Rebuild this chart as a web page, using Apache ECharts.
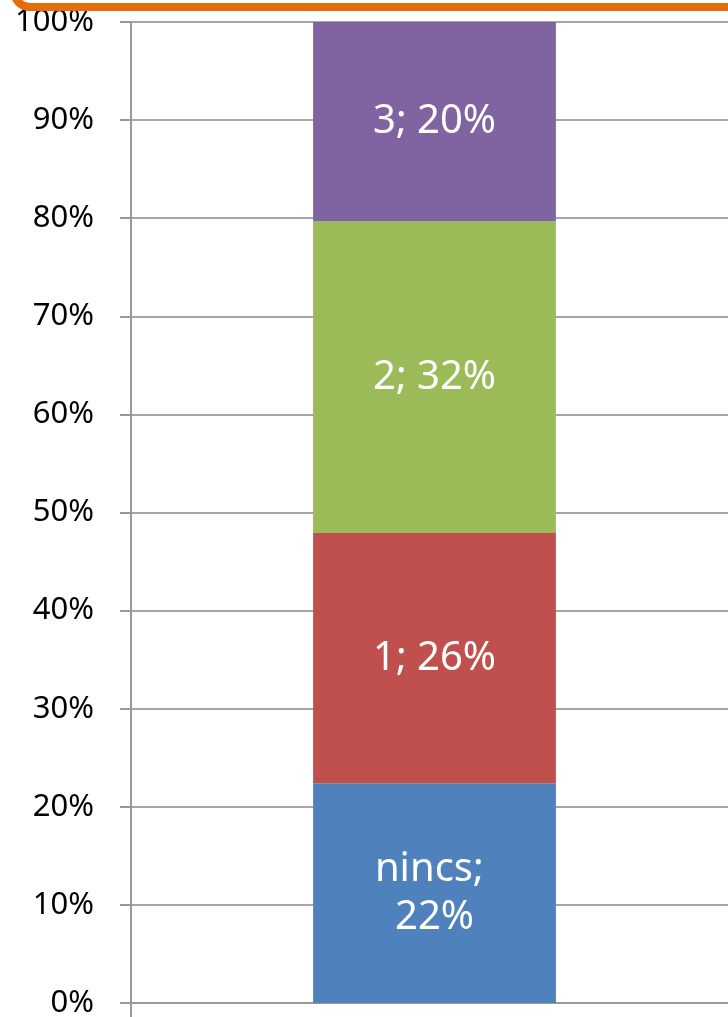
<!DOCTYPE html>
<html>
<head>
<meta charset="utf-8">
<script src="https://cdn.jsdelivr.net/npm/echarts@6/dist/echarts.min.js"></script>
<style>
    html, body { margin: 0; padding: 0; background: #fff; }
    #chart { width: 728px; height: 1017px; }
</style>
</head>
<body>
<div id="chart"></div>
<script>
// adatok (értékek %-ban)
var categories = [''];
var seriesNames = ['nincs', '1', '2', '3'];
var seriesValues = [[22.4], [25.5], [31.8], [20.3]];
var seriesColors = ['#4F81BD', '#C0504D', '#9BBB59', '#8064A2'];
var yTicks = { min: 0, max: 100, interval: 10 };

new function main() {
    var myChart = echarts.init(document.getElementById('chart'));

    var series = seriesNames.map(function(name, i) {
        return {
            name: name,
            type: 'bar',
            stack: 'total',
            barWidth: '40%',
            data: seriesValues[i],
            itemStyle: { color: seriesColors[i] },
            label: {
                show: true,
                position: 'inside',
                color: '#fff',
                fontFamily: 'Noto Sans',
                fontSize: 40,
                lineHeight: 48,
                width: 170,
                overflow: 'break',
                formatter: function(p) {
                    return p.seriesName + '; ' + Math.round(p.value) + '%';
                }
            }
        };
    });

    var option = {
        backgroundColor: '#fff',
        animation: false,
        // a rács jobbra kilóg a képből
        grid: { left: 131, top: 22, bottom: 14, width: 607, outerBoundsMode: 'none' },
        xAxis: {
            type: 'category',
            data: categories,
            axisLine: { lineStyle: { color: '#999', width: 2 } },
            axisTick: { show: true, length: 14, lineStyle: { color: '#999', width: 2 } },
            axisLabel: { show: false }
        },
        yAxis: {
            type: 'value',
            min: yTicks.min,
            max: yTicks.max,
            interval: yTicks.interval,
            axisLine: { show: true, lineStyle: { color: '#999', width: 2 } },
            axisTick: { show: true, length: 11, lineStyle: { color: '#999', width: 2 } },
            splitLine: { lineStyle: { color: '#a6a6a6', width: 2 } },
            axisLabel: {
                margin: 37,
                color: '#000',
                fontFamily: 'Noto Sans',
                fontSize: 31,
                formatter: '{value}%'
            }
        },
        // narancs keret alja a kép tetején
        graphic: [{
            type: 'rect',
            z: 100,
            shape: { x: 14, y: -117, width: 800, height: 124, r: 16 },
            style: { fill: 'none', stroke: '#E46C0A', lineWidth: 8 }
        }],
        series: series
    };

    myChart.setOption(option);
}
</script>
</body>
</html>
